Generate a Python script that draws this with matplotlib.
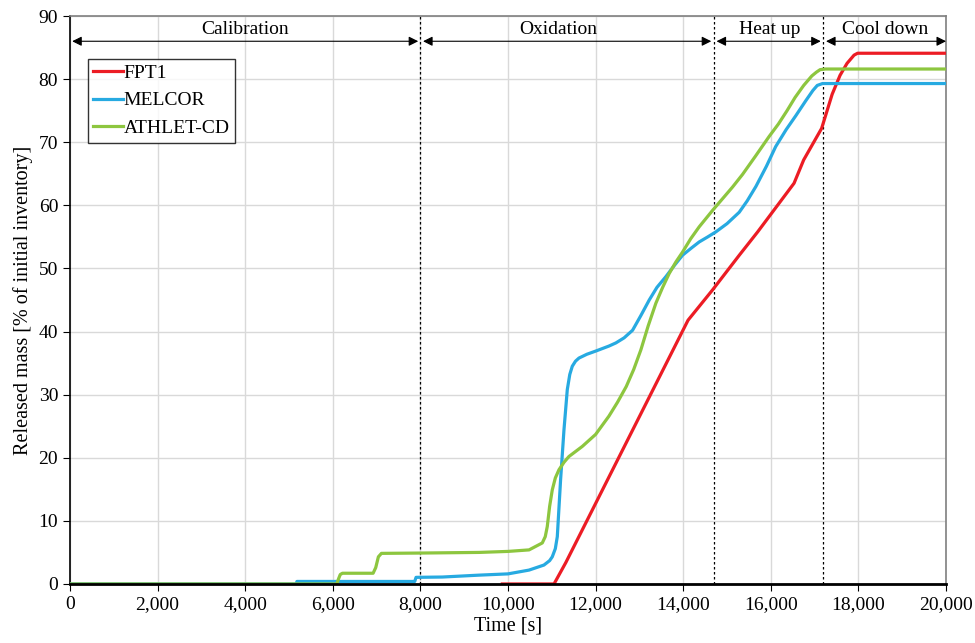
import numpy as np
import matplotlib
matplotlib.use("Agg")
import matplotlib.pyplot as plt
from matplotlib.ticker import FuncFormatter

plt.rcParams["font.family"] = ["Liberation Serif", "DejaVu Serif"]

# FPT1 measured release
fpt1_t = [9870, 11050, 11320, 11930, 14110, 14670, 15280, 15700, 16530, 16750, 17160,
          17400, 17580, 17740, 17900, 17980, 20000]
fpt1_v = [0.0, 0.0, 3.4, 11.8, 41.8, 46.6, 52.1, 55.8, 63.5, 67.2, 72.2,
          77.6, 80.6, 82.5, 83.8, 84.1, 84.1]

# MELCOR
melcor_t = [0, 5170, 5180, 7870, 7900, 8500, 9340, 10000, 10480, 10820, 10950, 11010,
            11080, 11125, 11200, 11277, 11353, 11410, 11467, 11540, 11620, 11800, 12000,
            12304, 12463, 12650, 12843, 13030, 13224, 13400, 13604, 13800, 13985, 14180,
            14365, 14560, 14746, 15000, 15278, 15460, 15660, 15900, 16110, 16350,
            16570, 16800, 16960, 17060, 17180, 20000]
melcor_v = [0.0, 0.0, 0.4, 0.4, 1.05, 1.1, 1.4, 1.6, 2.2, 3.0, 3.7, 4.3,
            5.6, 7.5, 16.5, 24.4, 30.8, 33.2, 34.5, 35.3, 35.8, 36.4, 36.9,
            37.7, 38.2, 39.0, 40.2, 42.5, 45.0, 47.0, 48.7, 50.5, 52.1, 53.2,
            54.2, 55.0, 55.8, 57.1, 58.9, 60.7, 63.0, 66.2, 69.3, 72.0,
            74.2, 76.6, 78.2, 79.0, 79.3, 79.3]

# ATHLET-CD
athlet_t = [0, 6090, 6130, 6170, 6220, 6920, 6980, 7040, 7110, 8000, 9340, 10000,
            10480, 10782, 10850, 10896, 10950, 11010, 11080, 11163, 11280, 11391, 11696,
            12000, 12304, 12500, 12700, 12870, 13033, 13200, 13376, 13530, 13680, 13830,
            13985, 14170, 14365, 14670, 15126, 15354, 15650, 15960, 16174, 16370, 16554,
            16750, 16935, 17040, 17125, 17250, 20000]
athlet_v = [0.0, 0.0, 0.8, 1.5, 1.7, 1.7, 2.6, 4.3, 4.85, 4.9, 5.0, 5.16,
            5.4, 6.5, 7.5, 9.1, 12.3, 14.9, 16.8, 18.1, 19.3, 20.2, 21.8,
            23.7, 26.6, 28.8, 31.3, 34.0, 37.1, 40.9, 44.5, 47.0, 49.2, 51.0,
            52.6, 54.7, 56.6, 59.2, 62.9, 64.9, 67.8, 70.9, 72.9, 75.0, 77.1,
            79.0, 80.5, 81.1, 81.5, 81.6, 81.6]

# test phases
phase_bounds = [8000, 14700, 17200]
phase_names = ["Calibration", "Oxidation", "Heat up", "Cool down"]
phase_spans = [(50, 7950), (8060, 14640), (14760, 17140), (17260, 20000)]
phase_label_x = [4000, 11150, 15980, 18600]


def main():
    fig = plt.figure(figsize=(9.75, 6.43), dpi=100)
    ax = fig.add_axes([0.0718, 0.0918, 0.8985, 0.8833])

    ax.plot(fpt1_t, fpt1_v, color="#ec1c24", lw=2.3, label="FPT1", zorder=4)
    ax.plot(melcor_t, melcor_v, color="#27aae1", lw=2.3, label="MELCOR", zorder=4)
    ax.plot(athlet_t, athlet_v, color="#8dc63f", lw=2.3, label="ATHLET-CD", zorder=4)

    for xb in phase_bounds:
        ax.axvline(xb, color="black", lw=0.9, ls=(0, (2, 2)), zorder=3)

    for (x0, x1), name, xl in zip(phase_spans, phase_names, phase_label_x):
        ax.annotate("", xy=(x1, 86), xytext=(x0, 86),
                    arrowprops=dict(arrowstyle="<|-|>", color="black", lw=0.8,
                                    shrinkA=0, shrinkB=0, mutation_scale=14))
        ax.text(xl, 87.8, name, ha="center", va="center", fontsize=14)

    ax.set_xlim(0, 20000)
    ax.set_ylim(0, 90)
    ax.set_xticks(np.arange(0, 20001, 2000))
    ax.set_yticks(np.arange(0, 91, 10))
    ax.xaxis.set_major_formatter(FuncFormatter(lambda v, p: f"{int(v):,}"))
    ax.grid(True, color="#d9d9d9", lw=1.0, zorder=0)
    ax.set_axisbelow(True)
    ax.tick_params(axis="both", direction="out", length=5, labelsize=14,
                   top=False, right=False)

    ax.spines["left"].set_color("black")
    ax.spines["left"].set_linewidth(1.2)
    ax.spines["bottom"].set_color("black")
    ax.spines["bottom"].set_linewidth(2.0)
    ax.spines["bottom"].set_zorder(5)
    for side in ["top", "right"]:
        ax.spines[side].set_color("#7f7f7f")
        ax.spines[side].set_linewidth(1.2)

    ax.set_xlabel("Time [s]", fontsize=14.5, labelpad=3)
    ax.set_ylabel("Released mass [% of initial inventory]", fontsize=14.5, labelpad=4)

    leg = ax.legend(loc="upper left", bbox_to_anchor=(0.02, 0.925), fontsize=14,
                    frameon=True, fancybox=False, edgecolor="black",
                    handlelength=1.5, handletextpad=0.05, borderpad=0.3,
                    labelspacing=0.5, borderaxespad=0)
    leg.get_frame().set_linewidth(1.0)

    fig.savefig("out.png", dpi=100)


if __name__ == "__main__":
    main()
